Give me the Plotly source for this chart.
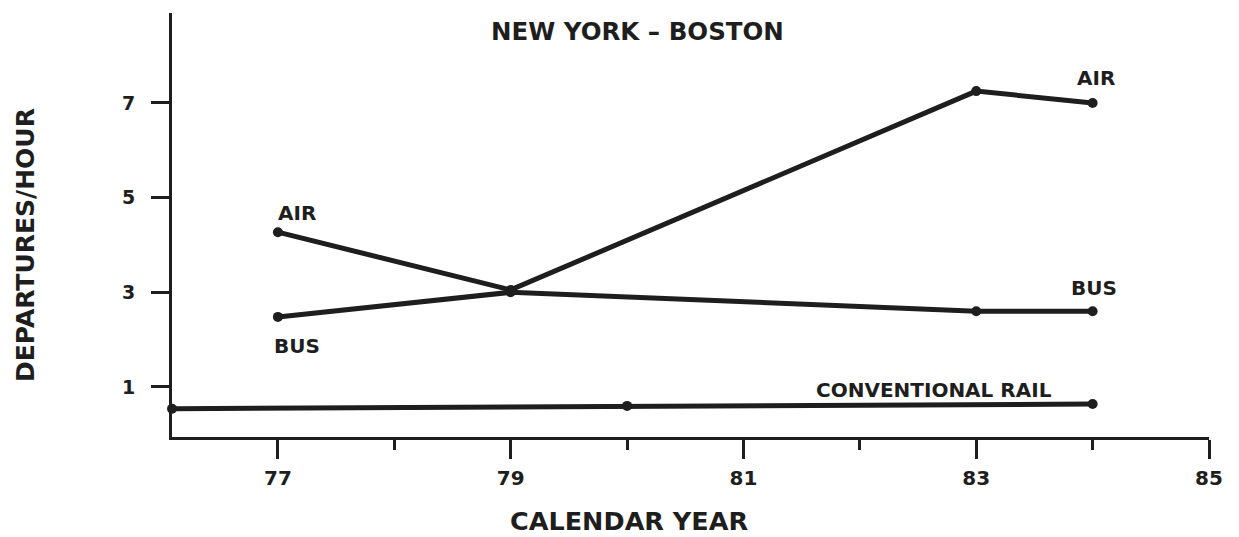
import plotly.graph_objects as go

# ---- data ----
air_years = [77, 79, 83, 84]
air_values = [4.27, 3.05, 7.25, 7.0]

bus_years = [77, 79, 83, 84]
bus_values = [2.48, 3.0, 2.6, 2.6]

rail_years = [76.09, 80, 84]
rail_values = [0.54, 0.6, 0.64]

x_tick_vals = [77, 79, 81, 83, 85]
x_tick_text = ["77", "79", "81", "83", "85"]
y_tick_vals = [1, 3, 5, 7]
y_tick_text = ["1", "3", "5", "7"]

INK = "#1e1e1e"
FONT = "DejaVu Sans"

fig = go.Figure()
for xs, ys in [(air_years, air_values), (bus_years, bus_values), (rail_years, rail_values)]:
    fig.add_trace(go.Scatter(
        x=xs, y=ys, mode="lines+markers",
        line=dict(color=INK, width=5),
        marker=dict(color=INK, size=10),
        cliponaxis=False, showlegend=False, hoverinfo="x+y",
    ))

label_font = dict(family=FONT, size=20, color=INK, weight="bold")
labels = [
    ("AIR", 77.16, 4.68),
    ("BUS", 77.16, 1.87),
    ("AIR", 84.03, 7.53),
    ("BUS", 84.01, 3.09),
    ("CONVENTIONAL RAIL", 82.64, 0.94),
]
for text, x, y in labels:
    fig.add_annotation(x=x, y=y, xref="x", yref="y", text=text, showarrow=False,
                       font=label_font, xanchor="center", yanchor="middle")

# chart title
fig.add_annotation(x=0.449, y=0.9575, xref="paper", yref="paper", text="NEW YORK – BOSTON",
                   showarrow=False, xanchor="center", yanchor="middle",
                   font=dict(family=FONT, size=24.5, color=INK, weight="bold"))
# axis titles
fig.add_annotation(x=0.4407, y=-0.198, xref="paper", yref="paper", text="CALENDAR YEAR",
                   showarrow=False, xanchor="center", yanchor="middle",
                   font=dict(family=FONT, size=25.5, color=INK, weight="bold"))
fig.add_annotation(x=-0.1418, y=0.4528, xref="paper", yref="paper", text="DEPARTURES/HOUR",
                   showarrow=False, xanchor="center", yanchor="middle", textangle=-90,
                   font=dict(family=FONT, size=25, color=INK, weight="bold"))

# page body has an 8px margin, so the figure is sized/offset to compensate
fig.update_layout(
    width=1231, height=529,
    margin=dict(l=164, r=30, t=5, b=100),
    paper_bgcolor="white", plot_bgcolor="white",
    xaxis=dict(
        range=[76.09, 85.0], showgrid=False, zeroline=False,
        showline=True, linecolor=INK, linewidth=3,
        tickmode="array", tickvals=x_tick_vals, ticktext=x_tick_text,
        ticks="outside", ticklen=19, tickwidth=3, tickcolor=INK,
        ticklabelstandoff=2,
        tickfont=dict(family=FONT, size=20, color=INK, weight="bold"),
        minor=dict(ticks="outside", ticklen=10, tickwidth=3, tickcolor=INK,
                   tickmode="linear", tick0=78, dtick=2, showgrid=False),
    ),
    yaxis=dict(
        range=[-0.057, 8.90], showgrid=False, zeroline=False,
        showline=True, linecolor=INK, linewidth=3,
        tickmode="array", tickvals=y_tick_vals, ticktext=y_tick_text,
        ticks="outside", ticklen=18, tickwidth=3, tickcolor=INK,
        ticklabelstandoff=12,
        tickfont=dict(family=FONT, size=19, color=INK, weight="bold"),
    ),
)

fig.write_html("out.html")
